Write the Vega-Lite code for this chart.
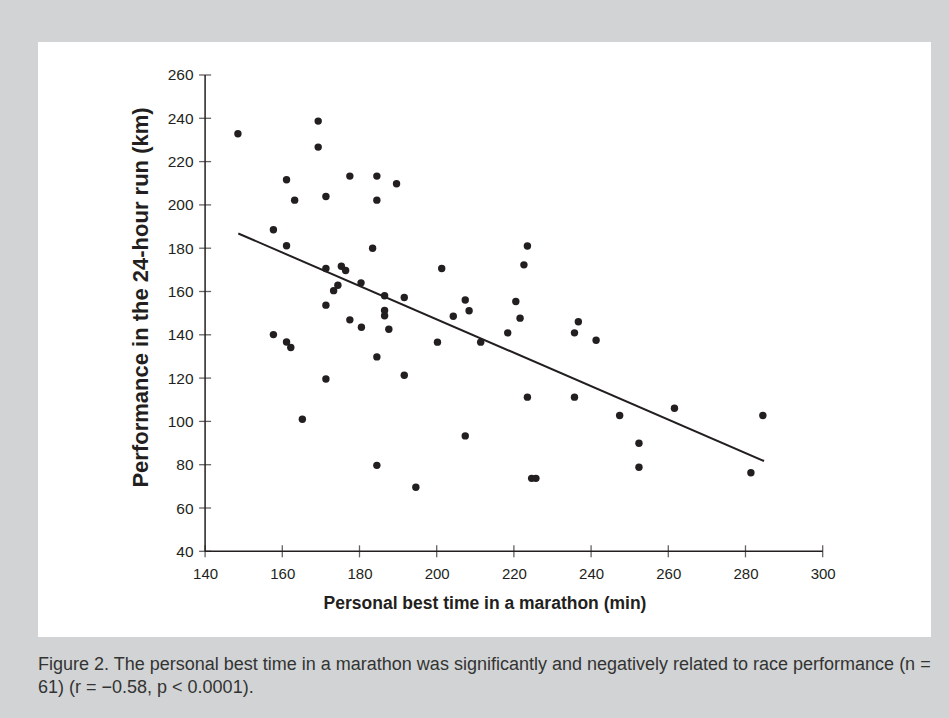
{
  "$schema": "https://vega.github.io/schema/vega-lite/v6.json",
  "autosize": {"type": "none"},
  "width": 893,
  "height": 595,
  "padding": {"left": 38, "top": 42, "right": 18, "bottom": 81},
  "background": "#d1d3d4",
  "view": {"fill": "#ffffff", "stroke": null},
  "title": {
    "text": ["Figure 2. The personal best time in a marathon was significantly and negatively related to race performance (n =", "61) (r = −0.58, p < 0.0001)."],
    "orient": "bottom",
    "anchor": "start",
    "frame": "group",
    "font": "Liberation Sans",
    "fontSize": 18,
    "fontWeight": "normal",
    "color": "#333333",
    "lineHeight": 23,
    "offset": 19
  },
  "datasets": {
    "pts": [
      {"x": 148.5, "y": 232.9}, {"x": 169.3, "y": 238.7}, {"x": 169.3, "y": 226.7}, {"x": 161.1, "y": 211.6},
      {"x": 163.2, "y": 202.2}, {"x": 171.3, "y": 203.9}, {"x": 177.5, "y": 213.3}, {"x": 184.5, "y": 213.3},
      {"x": 184.5, "y": 202.2}, {"x": 189.6, "y": 209.8}, {"x": 157.7, "y": 188.5}, {"x": 161.1, "y": 181.1},
      {"x": 183.4, "y": 180.0}, {"x": 171.3, "y": 170.6}, {"x": 175.3, "y": 171.7}, {"x": 176.4, "y": 169.7},
      {"x": 174.4, "y": 162.9}, {"x": 173.3, "y": 160.4}, {"x": 180.4, "y": 164.0}, {"x": 186.5, "y": 158.0},
      {"x": 191.6, "y": 157.2}, {"x": 171.3, "y": 153.7}, {"x": 186.5, "y": 151.2}, {"x": 186.5, "y": 148.8},
      {"x": 177.5, "y": 146.9}, {"x": 180.5, "y": 143.5}, {"x": 187.6, "y": 142.6}, {"x": 157.7, "y": 140.1},
      {"x": 161.1, "y": 136.7}, {"x": 162.2, "y": 134.1}, {"x": 184.5, "y": 129.8}, {"x": 171.3, "y": 119.6},
      {"x": 191.6, "y": 121.3}, {"x": 165.2, "y": 101.0}, {"x": 184.5, "y": 79.7}, {"x": 194.6, "y": 69.6},
      {"x": 223.5, "y": 181.0}, {"x": 222.6, "y": 172.3}, {"x": 201.3, "y": 170.6}, {"x": 207.4, "y": 156.1},
      {"x": 208.4, "y": 151.1}, {"x": 204.3, "y": 148.6}, {"x": 220.5, "y": 155.4}, {"x": 221.6, "y": 147.7},
      {"x": 236.7, "y": 146.0}, {"x": 235.7, "y": 140.9}, {"x": 241.3, "y": 137.5}, {"x": 218.4, "y": 140.9},
      {"x": 200.2, "y": 136.6}, {"x": 211.4, "y": 136.6}, {"x": 223.5, "y": 111.2}, {"x": 235.7, "y": 111.2},
      {"x": 247.4, "y": 102.7}, {"x": 261.6, "y": 106.1}, {"x": 284.5, "y": 102.7}, {"x": 207.4, "y": 93.3},
      {"x": 252.4, "y": 89.9}, {"x": 252.4, "y": 78.8}, {"x": 281.4, "y": 76.3}, {"x": 224.6, "y": 73.7},
      {"x": 225.7, "y": 73.7}
    ],
    "fit": [{"x": 148.6, "y": 186.8}, {"x": 284.8, "y": 81.7}],
    "xt": [{"x": 140}, {"x": 160}, {"x": 180}, {"x": 200}, {"x": 220}, {"x": 240}, {"x": 260}, {"x": 280}, {"x": 300}],
    "yt": [{"y": 40}, {"y": 60}, {"y": 80}, {"y": 100}, {"y": 120}, {"y": 140}, {"y": 160}, {"y": 180}, {"y": 200}, {"y": 220}, {"y": 240}, {"y": 260}],
    "one": [{}]
  },
  "layer": [
    {
      "data": {"name": "pts"},
      "mark": {"type": "point", "filled": true, "size": 55, "color": "#231f20", "opacity": 1},
      "encoding": {
        "x": {
          "field": "x", "type": "quantitative",
          "scale": {"domain": [96.71, 328.06], "nice": false, "zero": false},
          "axis": {
            "orient": "bottom", "offset": -85.7,
            "values": [140, 160, 180, 200, 220, 240, 260, 280, 300],
            "domain": false, "ticks": false, "tickSize": 0, "grid": false,
            "labelPadding": 15, "labelFont": "Liberation Sans", "labelFontSize": 15, "labelColor": "#231f20",
            "title": "Personal best time in a marathon (min)",
            "titleFont": "Liberation Sans", "titleFontSize": 17.5, "titleFontWeight": "bold", "titleColor": "#231f20",
            "titlePadding": 13
          }
        },
        "y": {
          "field": "y", "type": "quantitative",
          "scale": {"domain": [0.42, 275.24], "nice": false, "zero": false},
          "axis": {
            "orient": "left", "offset": -167.1,
            "values": [40, 60, 80, 100, 120, 140, 160, 180, 200, 220, 240, 260],
            "domain": false, "ticks": false, "tickSize": 0, "grid": false,
            "labelPadding": 12, "labelFont": "Liberation Sans", "labelFontSize": 15.5, "labelColor": "#231f20",
            "title": "Performance in the 24-hour run (km)",
            "titleFont": "Liberation Sans", "titleFontSize": 22, "titleFontWeight": "bold", "titleColor": "#231f20",
            "titlePadding": 15, "titleY": 255
          }
        }
      }
    },
    {
      "data": {"name": "fit"},
      "mark": {"type": "line", "color": "#231f20", "strokeWidth": 2},
      "encoding": {
        "x": {"field": "x", "type": "quantitative"},
        "y": {"field": "y", "type": "quantitative"}
      }
    },
    {
      "data": {"name": "xt"},
      "mark": {"type": "tick", "orient": "vertical", "color": "#231f20", "size": 12, "thickness": 1.3},
      "encoding": {
        "x": {"field": "x", "type": "quantitative"},
        "y": {"datum": 40, "type": "quantitative"}
      }
    },
    {
      "data": {"name": "yt"},
      "mark": {"type": "tick", "orient": "horizontal", "color": "#231f20", "size": 12, "thickness": 1.3},
      "encoding": {
        "y": {"field": "y", "type": "quantitative"},
        "x": {"datum": 140, "type": "quantitative"}
      }
    },
    {
      "data": {"name": "one"},
      "mark": {"type": "rule", "color": "#231f20", "strokeWidth": 1.5},
      "encoding": {
        "x": {"datum": 140, "type": "quantitative"},
        "x2": {"datum": 300},
        "y": {"datum": 40, "type": "quantitative"}
      }
    },
    {
      "data": {"name": "one"},
      "mark": {"type": "rule", "color": "#231f20", "strokeWidth": 1.5},
      "encoding": {
        "x": {"datum": 140, "type": "quantitative"},
        "y": {"datum": 40, "type": "quantitative"},
        "y2": {"datum": 260}
      }
    }
  ]
}
